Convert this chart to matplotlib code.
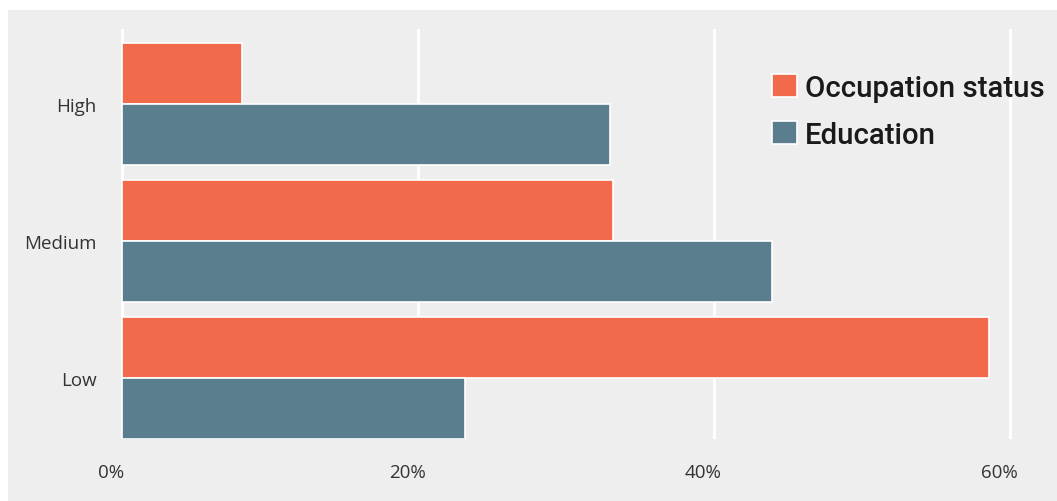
import matplotlib.pyplot as plt
import matplotlib.transforms as mtransforms
from matplotlib.patches import Rectangle

# share of each group, in percent
levels = ['Low', 'Medium', 'High']
occupation = [58.6, 33.2, 8.1]
education = [23.2, 43.9, 33.0]
xticks = [0, 20, 40, 60]

orange = '#f26a4c'
slate = '#5b7e8f'
bg = '#eeeeee'

plt.rcParams['font.family'] = ['Roboto', 'DejaVu Sans']

W, H = 1057, 502
fig = plt.figure(figsize=(W / 100, H / 100), dpi=100)
fig.patch.set_facecolor('white')
# grey panel behind everything, leaving a thin white strip top and left
fig.patches.append(Rectangle((8 / W, 0), 1 - 8 / W, (H - 11) / H,
                             transform=fig.transFigure, facecolor=bg,
                             edgecolor='none', zorder=-10))

# axes placed so that 0% sits at x=122px and 60% at x=1010px
x0, x1 = -0.5, 61
px = 888 / 60
left = 122 + x0 * px
right = 122 + x1 * px
ax = fig.add_axes([left / W, (H - 440) / H, (right - left) / W, 410 / H])
ax.set_facecolor('none')

h = 0.445
ypos = list(range(len(levels)))
ax.barh([y + h / 2 for y in ypos], occupation, height=h, color=orange,
        edgecolor='white', linewidth=1.2, label='Occupation status', zorder=3)
ax.barh([y - h / 2 for y in ypos], education, height=h, color=slate,
        edgecolor='white', linewidth=1.2, label='Education', zorder=3)

ax.set_xlim(x0, x1)
ax.set_ylim(-h, 2.544)
for t in xticks:
    ax.axvline(t, color='white', linewidth=2.2, zorder=1)

tick_font = ['Open Sans', 'DejaVu Sans']
ax.set_xticks(xticks)
ax.set_xticklabels([f'{t}%' for t in xticks], fontsize=13.5, color='#333333',
                   family=tick_font)
ax.set_yticks(ypos)
ax.set_yticklabels(levels, fontsize=13.5, color='#333333', family=tick_font)
ax.tick_params(axis='x', length=0, pad=17)
ax.tick_params(axis='y', length=0, pad=13)
for s in ax.spines.values():
    s.set_visible(False)

# percentage labels sit a little to the left of their grid lines
shift = mtransforms.ScaledTranslation(-11 / 100, 0, fig.dpi_scale_trans)
for lab in ax.get_xticklabels():
    lab.set_transform(lab.get_transform() + shift)

leg = ax.legend(loc='upper left', bbox_to_anchor=(772 / W, (H - 75) / H),
                bbox_transform=fig.transFigure, frameon=False, fontsize=21.2,
                handlelength=0.84, handleheight=0.84, handletextpad=0.28,
                labelspacing=0.64, borderpad=0, borderaxespad=0)
for t in leg.get_texts():
    t.set_color('#1a1a1a')
    t.set_fontweight('medium')

fig.savefig('out.png', dpi=100, facecolor=fig.get_facecolor())
